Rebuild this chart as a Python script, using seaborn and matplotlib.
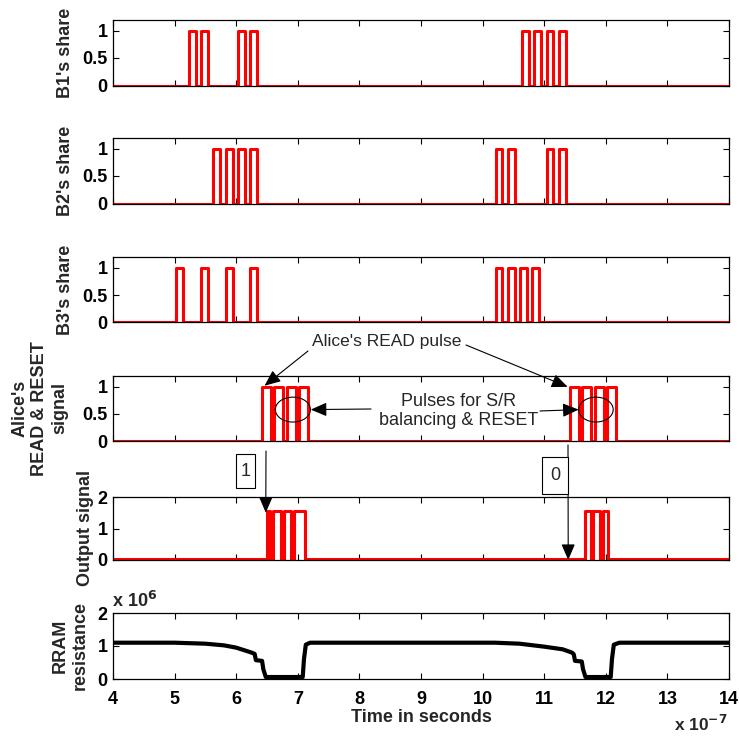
import numpy as np
import pandas as pd
import matplotlib
matplotlib.use("Agg")
import matplotlib.pyplot as plt
import seaborn as sns
from matplotlib.patches import Ellipse, Rectangle

# ---------------- data (time in units of 1e-7 s) ----------------
t_start, t_end = 4.0, 14.0
x_ticks = [4, 5, 6, 7, 8, 9, 10, 11, 12, 13, 14]

b1_starts = [5.23, 5.43, 6.03, 6.23, 10.64, 10.84, 11.04, 11.24]
b2_starts = [5.63, 5.83, 6.03, 6.23, 10.21, 10.41, 11.04, 11.24]
b3_starts = [5.03, 5.43, 5.83, 6.23, 10.21, 10.41, 10.61, 10.81]
share_width = 0.11
share_level = 1.0

alice_starts = [6.42, 6.62, 6.82, 7.02, 11.42, 11.62, 11.82, 12.02]
alice_width = 0.145
alice_level = 1.0

out_starts = [6.50, 6.60, 6.77, 6.94, 11.66, 11.79, 11.96]
out_ends = [6.55, 6.72, 6.89, 7.12, 11.76, 11.91, 12.04]
out_level = 1.55
out_base = 0.03

# RRAM resistance (units of 1e6 ohm)
rram_t = [4.0, 5.0, 5.5, 5.8, 6.0, 6.15, 6.25, 6.30, 6.32, 6.42,
          6.44, 6.48, 7.08, 7.10, 7.13, 7.20, 10.2, 10.6, 11.0, 11.3,
          11.45, 11.48, 11.50, 11.61, 11.63, 11.67, 12.08, 12.10, 12.13, 12.22,
          14.0]
rram_v = [1.10, 1.10, 1.07, 1.02, 0.95, 0.86, 0.80, 0.76, 0.57, 0.55,
          0.30, 0.06, 0.06, 0.60, 1.04, 1.10, 1.10, 1.07, 0.98, 0.90,
          0.80, 0.75, 0.55, 0.53, 0.30, 0.06, 0.06, 0.60, 1.04, 1.10,
          1.10]

share_ticks = [0, 0.5, 1]
share_ticklabels = ["0", "0.5", "1"]
big_ticks = [0, 1, 2]

ylabels = ["B1's share", "B2's share", "B3's share",
           "Alice's\nREAD & RESET\nsignal", "Output signal", "RRAM\nresistance"]


def square_wave(starts, ends, level, base=0.0):
    xs, ys = [t_start], [base]
    for s, e in zip(starts, ends):
        xs += [s, s, e, e]
        ys += [base, level, level, base]
    xs.append(t_end)
    ys.append(base)
    return pd.DataFrame({"t": xs, "v": ys})


# ---------------- figure ----------------
sns.set_style("white")
plt.rcParams["font.family"] = ["Liberation Sans", "DejaVu Sans"]
W, H = 739, 740
fig = plt.figure(figsize=(W / 100, H / 100), dpi=100)

left_px, right_px = 113, 729
panels_px = [(19.5, 85.5), (137.5, 203.5), (257, 322.5), (376, 441), (497, 560), (613, 679)]
axes = []
for top, bot in panels_px:
    ax = fig.add_axes([left_px / W, 1 - bot / H, (right_px - left_px) / W, (bot - top) / H])
    axes.append(ax)

red = "#ff0000"
lw = 2.2
share_sets = [b1_starts, b2_starts, b3_starts]
for ax, starts in zip(axes[:3], share_sets):
    df = square_wave(starts, [s + share_width for s in starts], share_level)
    sns.lineplot(data=df, x="t", y="v", estimator=None, sort=False, ax=ax,
                 color=red, lw=lw)

df = square_wave(alice_starts, [s + alice_width for s in alice_starts], alice_level)
sns.lineplot(data=df, x="t", y="v", estimator=None, sort=False, ax=axes[3], color=red, lw=lw)

df = square_wave(out_starts, out_ends, out_level, out_base)
sns.lineplot(data=df, x="t", y="v", estimator=None, sort=False, ax=axes[4], color=red, lw=lw)

df = pd.DataFrame({"t": rram_t, "v": rram_v})
sns.lineplot(data=df, x="t", y="v", estimator=None, sort=False, ax=axes[5], color="black", lw=3)

for i, ax in enumerate(axes):
    ax.set_xlim(t_start, t_end)
    ax.set_xticks(x_ticks)
    ax.set_xlabel("")
    ax.set_ylabel("")
    if i < 4:
        ax.set_ylim(0, 1.2)
        ax.set_yticks(share_ticks)
        ax.set_yticklabels(share_ticklabels)
    else:
        ax.set_ylim(0, 2)
        ax.set_yticks(big_ticks)
        ax.set_yticklabels([str(v) for v in big_ticks])
    ax.tick_params(axis="both", direction="in", length=4, width=0.8,
                   top=True, right=True, bottom=True, left=True,
                   labelsize=13, colors="black")
    ax.tick_params(axis="y", pad=4)
    ax.tick_params(axis="x", pad=9)
    for lab in ax.get_yticklabels() + ax.get_xticklabels():
        lab.set_fontweight("bold")
    if i < 5:
        ax.set_xticklabels([])
    for sp in ax.spines.values():
        sp.set_visible(True)
        sp.set_color("black")
        sp.set_linewidth(0.9)
    ax.set_facecolor("white")

axes[5].set_xticklabels([str(v) for v in x_ticks])
for lab in axes[5].get_xticklabels():
    lab.set_fontweight("bold")

# y labels
lab_pos = [(66, 52.5), (66, 170.5), (66, 290), (40, 408.5), (86, 528.5), (70, 646)]
for (px, py), txt in zip(lab_pos, ylabels):
    fig.text(px / W, 1 - py / H, txt, rotation=90, ha="center", va="center",
             multialignment="center", fontsize=13, fontweight="bold", linespacing=1.25)

# axis texts
fig.text(421 / W, 1 - 718 / H, "Time in seconds", ha="center", va="center",
         fontsize=13, fontweight="bold")
fig.text(728 / W, 1 - 724 / H, r"x 10$^{\mathbf{-7}}$", ha="right", va="center",
         fontsize=12.5, fontweight="bold")
fig.text(112 / W, 1 - 601 / H, r"x 10$^{\mathbf{6}}$", ha="left", va="center",
         fontsize=13, fontweight="bold")

# ---------------- annotations ----------------
arrow = dict(arrowstyle="-|>,head_length=0.7,head_width=0.3", lw=0.8, color="black",
             mutation_scale=14, shrinkA=0, shrinkB=0)

fig.text(387 / W, 1 - 342 / H, "Alice's READ pulse", ha="center", va="center", fontsize=12.5)
axes[3].annotate("", xy=(6.46, 1.02), xycoords="data",
                 xytext=(308, H - 351), textcoords="figure pixels", arrowprops=arrow)
axes[3].annotate("", xy=(11.38, 1.0), xycoords="data",
                 xytext=(466, H - 345), textcoords="figure pixels", arrowprops=arrow)

fig.text(459 / W, 1 - 411 / H, "Pulses for S/R\nbalancing & RESET", ha="center", va="center",
         fontsize=13, linespacing=1.15)
axes[3].add_patch(Ellipse((6.92, 0.58), 0.57, 0.46, fill=False, ec="black", lw=0.8, zorder=5))
axes[3].add_patch(Ellipse((11.84, 0.58), 0.56, 0.46, fill=False, ec="black", lw=0.8, zorder=5))
axes[3].annotate("", xy=(7.21, 0.58), xycoords="data",
                 xytext=(371, H - 409), textcoords="figure pixels", arrowprops=arrow)
axes[3].annotate("", xy=(11.56, 0.58), xycoords="data",
                 xytext=(540, H - 411), textcoords="figure pixels", arrowprops=arrow)

# bit result boxes and arrows
axes[4].annotate("", xy=(6.48, 1.5), xycoords="data",
                 xytext=(266, H - 451), textcoords="figure pixels", arrowprops=arrow)
axes[4].annotate("", xy=(11.39, 0.0), xycoords="data",
                 xytext=(568, H - 445), textcoords="figure pixels", arrowprops=arrow)

for (x0, y0, x1, y1), txt in [((236, 454, 255, 488), "1"), ((542, 457, 568, 494), "0")]:
    fig.add_artist(Rectangle((x0 / W, 1 - y1 / H), (x1 - x0) / W, (y1 - y0) / H,
                             transform=fig.transFigure, fill=True, fc="white",
                             ec="black", lw=0.8))
    fig.text((x0 + x1) / 2 / W, 1 - (y0 + y1) / 2 / H, txt, ha="center", va="center",
             fontsize=13)

fig.savefig("out.png", dpi=100)
